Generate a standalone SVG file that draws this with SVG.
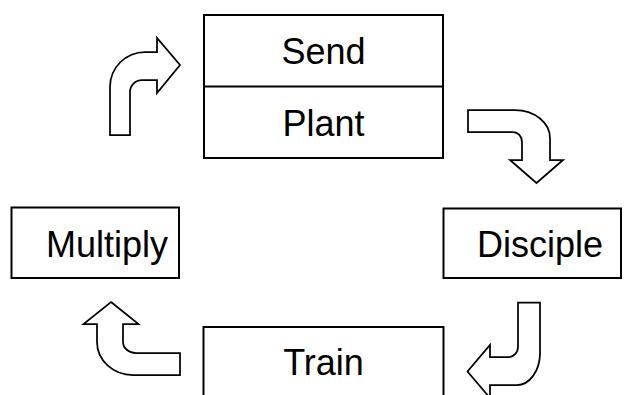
<svg xmlns="http://www.w3.org/2000/svg" width="627" height="395" viewBox="0 0 627 395">
  <style>
    .box { fill: #ffffff; stroke: #000000; stroke-width: 2; }
    .lbl { font-family: "Liberation Sans", Arial, sans-serif; font-size: 36px; fill: #000000; text-anchor: middle; }
    .arrow { fill: #ffffff; stroke: #000000; stroke-width: 1.75; stroke-linejoin: miter; }
  </style>
  <rect x="0" y="0" width="627" height="395" fill="#ffffff"/>

  <!-- cycle connectors: bent block arrows -->
  <g id="connectors">
    <path class="arrow" d="M110,135 L110,87 A35,35 0 0 1 145,52 L157,52 L157,38 L180,65 L157,93 L157,80 L142,80 A12,12 0 0 0 130,92 L130,135 Z"/>
    <path class="arrow" d="M468,110 L515,110 A35,28 0 0 1 550,138 L550,160 L563,160 L536.5,183 L510,160 L522,160 L522,142 A9,10 0 0 0 513,132 L468,132 Z"/>
    <path class="arrow" d="M518,302.5 L540,302.5 L540,353 A23,32 0 0 1 517,385 L490,385 L490,398 L467.5,371.5 L490,345 L490,357 L508,357 A10,10 0 0 0 518,347 Z"/>
    <path class="arrow" d="M111,302 L138.5,324 L123,324 L123,342 A13,11 0 0 0 136,353 L180,353 L180,375 L133,375 A36,33 0 0 1 97,342 L97,324 L83.5,324 Z"/>
  </g>

  <g id="send-plant">
    <rect class="box" x="204" y="15" width="239" height="143"/>
    <line x1="204" y1="86.5" x2="443" y2="86.5" stroke="#000000" stroke-width="2"/>
    <text class="lbl" x="323.5" y="64">Send</text>
    <text class="lbl" x="323.5" y="136">Plant</text>
  </g>

  <g id="multiply">
    <rect class="box" x="11.5" y="207.5" width="167.5" height="70.5"/>
    <text class="lbl" x="107" y="257">Multiply</text>
  </g>

  <g id="disciple">
    <rect class="box" x="443.5" y="208.5" width="177.5" height="69.5"/>
    <text class="lbl" x="540" y="257">Disciple</text>
  </g>

  <g id="train">
    <rect class="box" x="203.5" y="327" width="240" height="80"/>
    <text class="lbl" x="323.5" y="375">Train</text>
  </g>
</svg>
